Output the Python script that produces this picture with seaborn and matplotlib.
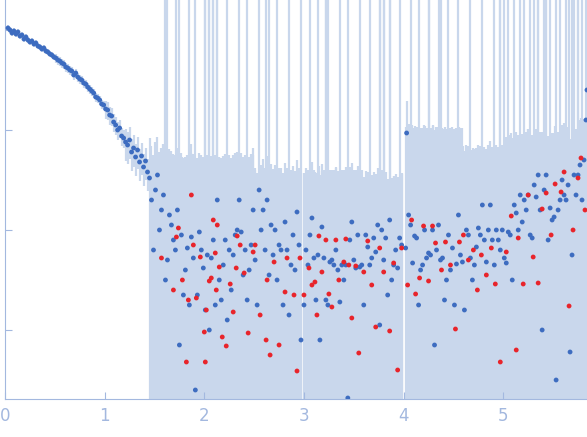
import numpy as np
import pandas as pd
import matplotlib
matplotlib.use("Agg")
import matplotlib.pyplot as plt
import seaborn as sns

# low-q curve (blue)
q_low = [0.03,0.05,0.07,0.09,0.11,0.13,0.15,0.17,0.19,0.21,0.23,0.25,0.27,0.29,0.31,0.33,0.35,0.37,0.39,0.41,
         0.43,0.45,0.47,0.49,0.51,0.53,0.55,0.57,0.59,0.61,0.63,0.65,0.67,0.69,0.71,0.73,0.75,0.77,0.79,0.81,
         0.83,0.85,0.87,0.89,0.91,0.93,0.95,0.97,0.99,1.01,1.03,1.05,1.07,1.09,1.11,1.13,1.15,1.17,1.19,1.21,
         1.23,1.25,1.27,1.29,1.31,1.33,1.35,1.37,1.39,1.41,1.43,1.45]
log_low = [0.02,0.0,-0.03,-0.01,-0.04,-0.02,-0.06,-0.05,-0.09,-0.07,-0.1,-0.12,-0.11,-0.14,-0.13,-0.16,-0.17,-0.19,-0.18,-0.21,
           -0.22,-0.24,-0.25,-0.27,-0.28,-0.3,-0.31,-0.33,-0.34,-0.37,-0.38,-0.4,-0.41,-0.45,-0.43,-0.47,-0.49,-0.5,-0.53,-0.54,
           -0.57,-0.59,-0.61,-0.63,-0.67,-0.68,-0.7,-0.74,-0.75,-0.79,-0.8,-0.85,-0.86,-0.92,-0.95,-1.0,-0.98,-1.06,-1.08,-1.12,
           -1.15,-1.1,-1.22,-1.18,-1.27,-1.2,-1.32,-1.26,-1.37,-1.31,-1.42,-1.48]

# high-q blue points
q_blue = [1.47,1.49,1.51,1.53,1.55,1.57,1.59,1.61,1.63,1.65,1.67,1.69,1.71,1.73,1.75,1.77,1.79,1.81,1.83,1.85,
          1.87,1.89,1.91,1.93,1.95,1.97,1.99,2.01,2.03,2.05,2.07,2.09,2.11,2.13,2.15,2.17,2.19,2.21,2.23,2.25,
          2.27,2.29,2.31,2.33,2.35,2.37,2.39,2.41,2.43,2.45,2.47,2.49,2.51,2.53,2.55,2.57,2.59,2.61,2.63,2.65,
          2.67,2.69,2.71,2.73,2.75,2.77,2.79,2.81,2.83,2.85,2.87,2.89,2.91,2.93,2.95,2.97,3.00,3.02,3.04,3.06,
          3.08,3.10,3.12,3.14,3.16,3.18,3.20,3.22,3.24,3.26,3.28,3.30,3.32,3.34,3.36,3.38,3.40,3.42,3.44,3.46,
          3.48,3.50,3.52,3.54,3.56,3.58,3.60,3.62,3.64,3.66,3.68,3.70,3.72,3.74,3.76,3.78,3.80,3.82,3.84,3.86,
          3.88,3.90,3.92,3.94,3.96,3.98,4.02,4.03,4.05,4.07,4.09,4.11,4.13,4.15,4.17,4.19,4.21,4.23,4.25,4.27,
          4.29,4.31,4.33,4.35,4.37,4.39,4.41,4.43,4.45,4.47,4.49,4.51,4.53,4.55,4.57,4.59,4.61,4.63,4.65,4.67,
          4.69,4.71,4.73,4.75,4.77,4.79,4.81,4.83,4.85,4.87,4.89,4.91,4.93,4.95,4.97,4.99,5.01,5.03,5.05,5.07,
          5.09,5.11,5.13,5.15,5.17,5.19,5.21,5.23,5.25,5.27,5.29,5.31,5.33,5.35,5.37,5.39,5.41,5.43,5.45,5.47,
          5.49,5.51,5.53,5.55,5.57,5.59,5.61,5.63,5.65,5.67,5.69,5.71,5.73,5.75,5.77,5.79,5.81,5.83,5.84]
log_blue = [-1.70,-2.20,-1.60,-1.45,-2.00,-1.80,-1.65,-2.50,-2.30,-1.85,-1.95,-2.10,-2.20,-1.80,-3.15,-2.05,-2.65,-2.40,-2.18,-2.75,
            -2.07,-2.28,-3.60,-2.65,-2.02,-2.20,-2.38,-2.80,-2.25,-3.00,-2.28,-2.10,-2.75,-1.70,-2.50,-2.70,-2.35,-2.10,-2.90,-2.20,
            -2.60,-2.25,-2.05,-2.00,-1.70,-2.02,-2.45,-2.20,-2.70,-2.40,-2.15,-1.80,-2.30,-2.75,-1.60,-2.00,-1.80,-2.20,-1.70,-2.45,
            -1.95,-2.25,-2.00,-2.50,-2.15,-2.20,-2.75,-1.92,-2.20,-2.85,-2.35,-2.05,-2.40,-1.82,-2.15,-3.10,-2.75,-2.20,-2.35,-2.05,
            -1.88,-2.28,-2.70,-2.25,-3.10,-1.97,-2.28,-2.70,-2.75,-2.32,-2.30,-2.35,-2.20,-2.40,-2.72,-2.35,-2.50,-2.35,-3.68,-2.10,
            -1.92,-2.30,-2.38,-2.05,-2.37,-2.35,-2.75,-2.05,-2.17,-2.35,-2.28,-2.08,-2.22,-1.95,-2.95,-2.00,-2.30,-2.08,-2.65,-1.90,
            -2.50,-2.35,-2.20,-2.38,-2.08,-2.15,-2.18,-1.03,-1.85,-1.95,-2.33,-2.06,-2.08,-2.75,-2.40,-2.35,-2.00,-2.28,-2.23,-2.25,
            -2.00,-3.15,-2.20,-1.95,-2.30,-2.28,-2.70,-2.50,-2.05,-2.40,-2.18,-2.75,-2.34,-1.85,-2.25,-2.32,-2.80,-2.00,-2.05,-2.28,
            -2.50,-2.35,-2.17,-1.98,-2.05,-1.75,-2.10,-2.32,-2.00,-1.75,-2.10,-2.35,-2.00,-2.10,-2.20,-2.00,-2.28,-2.33,-2.02,-2.05,
            -2.50,-1.75,-1.83,-2.00,-1.65,-1.92,-1.70,-1.80,-1.65,-2.05,-2.08,-1.55,-1.67,-1.45,-1.80,-3.00,-1.60,-1.45,-2.10,-1.78,
            -1.90,-1.87,-3.50,-1.80,-1.70,-1.50,-1.65,-1.70,-1.55,-3.22,-2.25,-1.45,-1.65,-1.45,-1.35,-1.70,-1.30,-0.90,-0.60]

# high-q red points
q_red = [1.57,1.69,1.72,1.74,1.78,1.82,1.84,1.87,1.89,1.92,1.96,2.00,2.01,2.02,2.05,2.07,2.09,2.11,2.12,2.13,
         2.15,2.18,2.22,2.26,2.29,2.32,2.33,2.36,2.40,2.44,2.49,2.51,2.56,2.62,2.63,2.66,2.70,2.75,2.81,2.83,
         2.90,2.93,2.96,3.00,3.05,3.08,3.11,3.13,3.15,3.18,3.22,3.25,3.28,3.32,3.35,3.40,3.42,3.45,3.48,3.52,
         3.55,3.60,3.64,3.68,3.72,3.76,3.80,3.86,3.90,3.94,3.98,4.04,4.08,4.12,4.16,4.20,4.25,4.29,4.32,4.38,
         4.42,4.47,4.52,4.56,4.60,4.65,4.70,4.74,4.78,4.83,4.88,4.92,4.97,5.03,5.08,5.13,5.15,5.20,5.25,5.30,
         5.35,5.39,5.43,5.48,5.52,5.58,5.61,5.66,5.70,5.75,5.78,5.82]
log_red = [-2.28,-2.60,-2.07,-1.98,-2.50,-3.32,-2.70,-1.65,-2.15,-2.68,-2.27,-3.02,-3.32,-2.80,-2.51,-2.48,-1.90,-2.23,-2.60,-1.95,
           -2.37,-3.07,-3.16,-2.54,-2.82,-2.38,-2.06,-2.15,-2.43,-3.03,-2.22,-2.15,-2.85,-3.10,-2.50,-3.25,-2.32,-3.15,-2.62,-2.28,
           -2.65,-3.41,-2.28,-2.65,-2.38,-2.55,-2.52,-2.85,-2.06,-2.42,-2.10,-2.64,-2.77,-2.10,-2.50,-2.32,-2.09,-2.35,-2.88,-2.36,
           -3.23,-2.42,-2.11,-2.55,-2.97,-2.18,-2.42,-3.01,-2.33,-3.40,-2.18,-2.55,-1.90,-2.64,-2.48,-1.96,-2.51,-1.96,-2.13,-2.40,
           -2.12,-2.35,-2.99,-2.12,-2.05,-2.30,-2.20,-2.60,-2.25,-2.45,-2.18,-2.54,-3.32,-2.22,-1.86,-3.20,-2.08,-2.54,-1.65,-2.27,
           -2.53,-1.79,-1.63,-2.05,-1.54,-1.62,-1.42,-2.76,-2.00,-1.48,-1.28,-1.80]

# error-bar sizes per q range, and q values of points with very large errors
err_q_edges = [0.0, 0.5, 1.0, 1.2, 1.45, 2.5, 3.6, 4.0, 4.6, 5.0, 5.9]
err_rel_low = [0.06, 0.1, 0.2, 0.35]
err_abs_high = [0.05, 0.035, 0.03, 0.1, 0.06, 0.08]
big_err_q = [1.61,1.63,1.75,1.85,1.91,2.01,2.05,2.13,2.23,2.35,2.43,2.55,2.65,2.73,2.85,2.97,3.06,3.14,3.24,
             3.36,3.44,3.56,3.66,3.76,3.86,3.96,4.07,4.15,4.25,4.35,4.45,4.55,4.67,4.79,4.91,5.01,5.11,5.21,
             5.31,5.41,5.53,5.63,5.71,5.79,1.72,2.09,2.62,3.22,3.80,4.38,4.97,5.43,5.66,5.05,5.17,5.27,5.35,
             5.47,5.57,5.69,5.75,5.83]

def sigma_for(q, I):
    idx = np.searchsorted(err_q_edges, q, side="right") - 1
    if q < 1.45:
        return I * err_rel_low[idx]
    s = err_abs_high[idx - 4]
    if any(abs(q - b) < 1e-6 for b in big_err_q):
        s = 5.0
    return s

df = pd.DataFrame({
    "q": q_low + q_blue + q_red,
    "I": list(10 ** np.array(log_low + log_blue + log_red)),
    "kind": ["pos"] * (len(q_low) + len(q_blue)) + ["neg"] * len(q_red),
})
df["sigma"] = [sigma_for(q, I) for q, I in zip(df["q"], df["I"])]

blue = "#3d6cc0"
red = "#e8242b"
errc = "#c9d7ec"
axc = "#a3b8df"

fig = plt.figure(figsize=(5.87, 4.37), dpi=100)
ax = fig.add_axes([5/587, 38/437, 582/587, 399/437])
ymin, ymax = 10 ** -3.69, 10 ** 0.30
lo = np.clip(df["I"] - df["sigma"], ymin, None)
hi = df["I"] + df["sigma"]
ax.vlines(df["q"], lo, hi, color=errc, lw=1.6, zorder=1)
sns.scatterplot(data=df, x="q", y="I", hue="kind", palette={"pos": blue, "neg": red},
                s=12, linewidth=0, legend=False, ax=ax, zorder=3)
ax.set_yscale("log")
ax.set_xlim(0, 5.84)
ax.set_ylim(ymin, ymax)
ax.set_xlabel("")
ax.set_ylabel("")
ax.set_xticks([0, 1, 2, 3, 4, 5])
ax.set_yticks([1e-3, 1e-2, 1e-1, 1])
ax.set_yticklabels([])
ax.minorticks_off()
ax.tick_params(axis="y", which="both", direction="in", length=5, color=axc)
ax.tick_params(axis="x", direction="in", length=5, color=axc, labelcolor=axc, labelsize=12, pad=6)
for s in ["top", "right"]:
    ax.spines[s].set_visible(False)
for s in ["left", "bottom"]:
    ax.spines[s].set_color(axc)
fig.savefig("out.png", dpi=100)
